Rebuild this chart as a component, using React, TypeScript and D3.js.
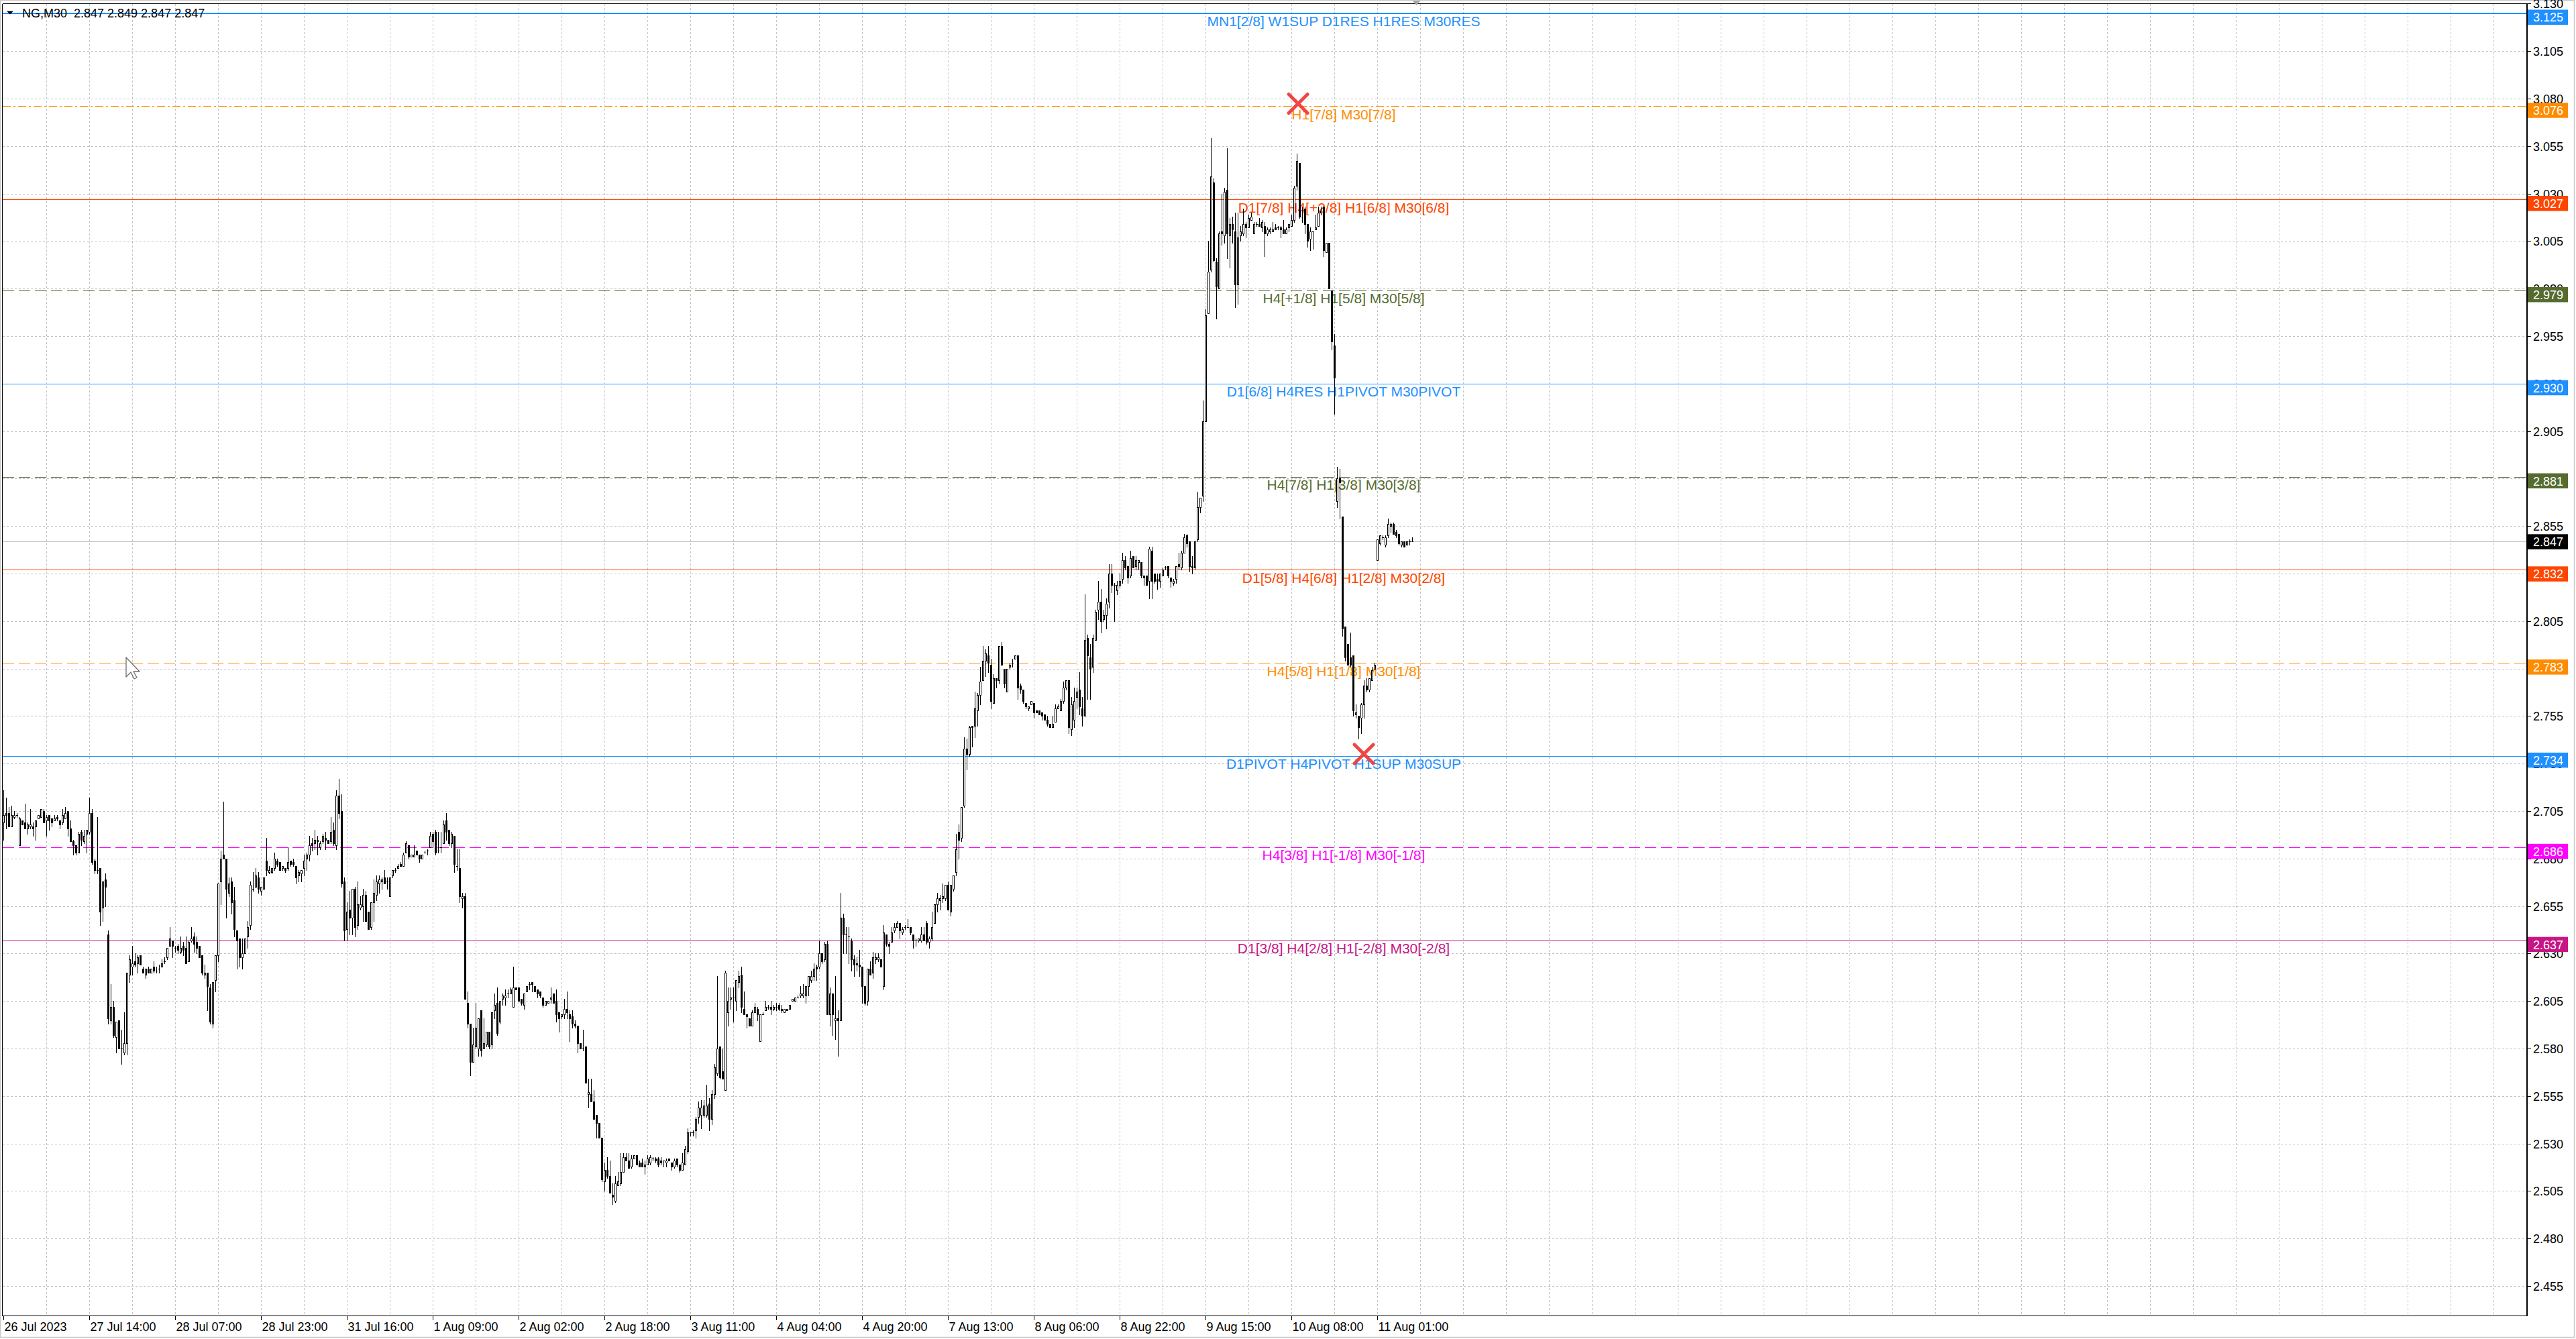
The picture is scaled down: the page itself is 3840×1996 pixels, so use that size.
import React, { useEffect } from "react";
import * as d3 from "d3";

const W = 3840;
const H = 1996;

// NG, M30 candles [open, high, low, close], oldest first (bar 0 = first bar on the left)
const candles: [number, number, number, number][] = [
  [2.699,2.716,2.690,2.703],[2.704,2.712,2.696,2.703],[2.704,2.707,2.697,2.697],[2.697,2.708,2.697,2.703],
  [2.702,2.705,2.701,2.703],[2.703,2.704,2.702,2.703],[2.687,2.702,2.687,2.701],[2.700,2.700,2.698,2.698],
  [2.699,2.709,2.696,2.696],[2.696,2.699,2.693,2.698],[2.697,2.706,2.696,2.698],[2.697,2.699,2.692,2.696],
  [2.697,2.700,2.690,2.700],[2.701,2.703,2.701,2.703],[2.702,2.706,2.702,2.706],[2.705,2.706,2.699,2.699],
  [2.700,2.703,2.692,2.702],[2.703,2.703,2.695,2.700],[2.701,2.701,2.697,2.699],[2.700,2.703,2.700,2.701],
  [2.702,2.703,2.700,2.701],[2.700,2.700,2.696,2.698],[2.699,2.706,2.698,2.703],[2.701,2.707,2.701,2.704],
  [2.705,2.705,2.692,2.696],[2.696,2.700,2.689,2.689],[2.689,2.690,2.682,2.687],[2.687,2.687,2.682,2.683],
  [2.683,2.694,2.683,2.693],[2.694,2.695,2.687,2.690],[2.689,2.695,2.688,2.692],[2.693,2.695,2.683,2.695],
  [2.694,2.712,2.693,2.704],[2.704,2.706,2.677,2.678],[2.679,2.680,2.672,2.674],[2.674,2.702,2.672,2.674],
  [2.675,2.675,2.645,2.652],[2.654,2.668,2.647,2.668],[2.669,2.672,2.655,2.665],[2.640,2.642,2.593,2.596],
  [2.595,2.614,2.593,2.602],[2.602,2.605,2.586,2.587],[2.586,2.594,2.578,2.594],[2.595,2.595,2.580,2.580],
  [2.580,2.590,2.572,2.580],[2.578,2.599,2.577,2.583],[2.583,2.620,2.577,2.620],[2.619,2.629,2.615,2.627],
  [2.623,2.634,2.619,2.625],[2.626,2.630,2.623,2.624],[2.625,2.629,2.620,2.628],[2.629,2.629,2.624,2.624],
  [2.622,2.623,2.620,2.620],[2.619,2.622,2.617,2.622],[2.622,2.623,2.620,2.620],[2.620,2.622,2.620,2.622],
  [2.623,2.626,2.620,2.621],[2.621,2.623,2.620,2.621],[2.622,2.624,2.620,2.622],[2.623,2.627,2.623,2.625],
  [2.626,2.628,2.625,2.626],[2.628,2.633,2.627,2.633],[2.634,2.644,2.634,2.638],[2.637,2.637,2.628,2.634],
  [2.633,2.634,2.631,2.633],[2.634,2.635,2.630,2.632],[2.631,2.639,2.630,2.633],[2.634,2.636,2.629,2.632],
  [2.633,2.639,2.625,2.625],[2.626,2.637,2.626,2.636],[2.637,2.644,2.636,2.638],[2.639,2.641,2.631,2.635],
  [2.636,2.639,2.630,2.633],[2.634,2.634,2.628,2.628],[2.629,2.629,2.619,2.620],[2.619,2.624,2.617,2.620],
  [2.620,2.620,2.600,2.613],[2.612,2.614,2.593,2.594],[2.593,2.615,2.591,2.615],[2.616,2.629,2.610,2.629],
  [2.629,2.667,2.626,2.667],[2.668,2.684,2.656,2.680],[2.682,2.710,2.680,2.680],[2.680,2.680,2.649,2.664],
  [2.662,2.670,2.660,2.667],[2.668,2.670,2.651,2.657],[2.658,2.665,2.639,2.643],[2.642,2.642,2.622,2.637],
  [2.638,2.638,2.623,2.628],[2.628,2.638,2.622,2.630],[2.630,2.638,2.630,2.638],[2.639,2.647,2.633,2.644],
  [2.645,2.668,2.643,2.666],[2.664,2.673,2.663,2.664],[2.665,2.675,2.665,2.671],[2.670,2.673,2.662,2.664],
  [2.663,2.665,2.661,2.665],[2.664,2.670,2.664,2.670],[2.679,2.691,2.671,2.674],[2.673,2.676,2.672,2.674],
  [2.673,2.675,2.672,2.675],[2.675,2.683,2.674,2.680],[2.679,2.680,2.676,2.677],[2.678,2.678,2.674,2.674],
  [2.675,2.676,2.674,2.676],[2.675,2.675,2.673,2.674],[2.675,2.686,2.674,2.678],[2.679,2.679,2.676,2.677],
  [2.678,2.680,2.676,2.677],[2.676,2.676,2.667,2.670],[2.671,2.674,2.668,2.673],[2.672,2.674,2.668,2.674],
  [2.675,2.682,2.671,2.679],[2.680,2.683,2.674,2.682],[2.682,2.692,2.679,2.687],[2.688,2.691,2.684,2.687],
  [2.688,2.695,2.685,2.690],[2.690,2.692,2.682,2.689],[2.686,2.689,2.685,2.688],[2.689,2.693,2.688,2.692],
  [2.691,2.694,2.685,2.690],[2.690,2.690,2.688,2.688],[2.689,2.702,2.688,2.694],[2.695,2.699,2.687,2.688],
  [2.687,2.716,2.685,2.713],[2.713,2.722,2.701,2.704],[2.705,2.714,2.665,2.667],[2.668,2.670,2.637,2.642],
  [2.643,2.657,2.637,2.652],[2.653,2.663,2.640,2.649],[2.649,2.664,2.640,2.664],[2.664,2.665,2.639,2.644],
  [2.645,2.668,2.643,2.656],[2.654,2.660,2.653,2.656],[2.655,2.664,2.647,2.661],[2.661,2.663,2.647,2.647],
  [2.652,2.652,2.643,2.643],[2.644,2.657,2.643,2.657],[2.657,2.669,2.647,2.662],[2.661,2.671,2.658,2.668],
  [2.667,2.671,2.662,2.669],[2.668,2.670,2.664,2.669],[2.670,2.674,2.667,2.667],[2.668,2.670,2.664,2.668],
  [2.660,2.670,2.660,2.670],[2.671,2.674,2.670,2.674],[2.674,2.675,2.673,2.674],[2.675,2.677,2.675,2.676],
  [2.677,2.678,2.676,2.676],[2.676,2.683,2.676,2.682],[2.683,2.689,2.683,2.688],[2.687,2.687,2.680,2.681],
  [2.681,2.682,2.681,2.682],[2.681,2.687,2.681,2.682],[2.684,2.684,2.682,2.682],[2.682,2.682,2.678,2.680],
  [2.680,2.682,2.680,2.682],[2.683,2.684,2.683,2.683],[2.684,2.685,2.682,2.684],[2.686,2.694,2.686,2.692],
  [2.693,2.694,2.686,2.689],[2.694,2.695,2.682,2.683],[2.684,2.694,2.683,2.684],[2.686,2.694,2.683,2.686],
  [2.688,2.700,2.688,2.698],[2.700,2.704,2.690,2.694],[2.695,2.695,2.687,2.688],[2.688,2.694,2.686,2.693],
  [2.692,2.692,2.673,2.677],[2.676,2.685,2.674,2.676],[2.675,2.685,2.657,2.660],[2.659,2.662,2.654,2.660],
  [2.660,2.662,2.606,2.606],[2.604,2.610,2.591,2.593],[2.593,2.593,2.566,2.573],[2.573,2.591,2.573,2.582],
  [2.581,2.604,2.580,2.591],[2.580,2.596,2.576,2.596],[2.600,2.600,2.576,2.579],[2.580,2.596,2.580,2.583],
  [2.582,2.589,2.581,2.589],[2.589,2.589,2.580,2.581],[2.582,2.599,2.580,2.599],[2.600,2.609,2.596,2.603],
  [2.604,2.612,2.587,2.588],[2.594,2.605,2.593,2.605],[2.606,2.609,2.603,2.608],[2.607,2.611,2.603,2.608],
  [2.609,2.611,2.607,2.609],[2.609,2.612,2.609,2.611],[2.602,2.623,2.602,2.612],[2.612,2.612,2.611,2.611],
  [2.612,2.612,2.605,2.605],[2.606,2.606,2.603,2.604],[2.603,2.609,2.601,2.609],[2.610,2.613,2.610,2.613],
  [2.614,2.615,2.611,2.614],[2.615,2.615,2.610,2.614],[2.613,2.613,2.610,2.610],[2.611,2.611,2.607,2.609],
  [2.610,2.610,2.607,2.608],[2.607,2.607,2.602,2.603],[2.603,2.605,2.603,2.605],[2.604,2.605,2.604,2.605],
  [2.606,2.612,2.604,2.607],[2.609,2.609,2.604,2.604],[2.605,2.611,2.594,2.598],[2.599,2.599,2.589,2.596],
  [2.597,2.598,2.596,2.598],[2.598,2.606,2.596,2.601],[2.601,2.610,2.596,2.599],[2.598,2.600,2.584,2.596],
  [2.597,2.600,2.591,2.593],[2.593,2.595,2.591,2.592],[2.592,2.592,2.578,2.583],[2.583,2.583,2.580,2.580],
  [2.580,2.590,2.579,2.580],[2.581,2.581,2.562,2.562],[2.556,2.564,2.549,2.557],[2.556,2.564,2.552,2.552],
  [2.552,2.558,2.543,2.543],[2.545,2.545,2.533,2.541],[2.541,2.541,2.533,2.533],[2.533,2.533,2.510,2.511],
  [2.510,2.520,2.505,2.516],[2.516,2.523,2.512,2.513],[2.513,2.521,2.504,2.504],[2.503,2.509,2.498,2.502],
  [2.500,2.513,2.499,2.509],[2.508,2.515,2.508,2.510],[2.509,2.525,2.508,2.515],[2.515,2.525,2.515,2.523],
  [2.523,2.525,2.521,2.521],[2.521,2.525,2.517,2.517],[2.518,2.524,2.517,2.522],[2.522,2.524,2.522,2.524],
  [2.524,2.524,2.519,2.519],[2.520,2.521,2.518,2.518],[2.520,2.522,2.518,2.518],[2.518,2.521,2.514,2.519],
  [2.519,2.524,2.519,2.522],[2.520,2.524,2.519,2.523],[2.522,2.523,2.521,2.522],[2.522,2.523,2.520,2.521],
  [2.522,2.523,2.518,2.519],[2.521,2.523,2.519,2.520],[2.521,2.521,2.518,2.521],[2.520,2.522,2.518,2.521],
  [2.522,2.522,2.521,2.521],[2.520,2.520,2.516,2.518],[2.518,2.522,2.517,2.521],[2.522,2.522,2.518,2.519],
  [2.519,2.519,2.515,2.516],[2.516,2.525,2.516,2.520],[2.519,2.529,2.519,2.527],[2.526,2.538,2.525,2.536],
  [2.536,2.536,2.534,2.536],[2.536,2.537,2.534,2.536],[2.537,2.544,2.533,2.543],[2.544,2.552,2.541,2.549],
  [2.545,2.553,2.538,2.549],[2.545,2.553,2.544,2.550],[2.545,2.561,2.544,2.550],[2.551,2.554,2.537,2.543],
  [2.543,2.558,2.540,2.556],[2.556,2.572,2.554,2.570],[2.567,2.618,2.566,2.580],[2.581,2.581,2.564,2.565],
  [2.568,2.580,2.564,2.564],[2.558,2.621,2.558,2.620],[2.599,2.612,2.592,2.605],[2.606,2.612,2.601,2.607],
  [2.607,2.612,2.594,2.607],[2.605,2.616,2.600,2.616],[2.615,2.621,2.612,2.618],[2.619,2.623,2.599,2.602],
  [2.601,2.610,2.598,2.598],[2.598,2.598,2.591,2.597],[2.596,2.596,2.592,2.592],[2.592,2.600,2.592,2.599],
  [2.599,2.604,2.599,2.602],[2.601,2.602,2.595,2.598],[2.584,2.598,2.584,2.598],[2.598,2.599,2.598,2.598],
  [2.600,2.605,2.600,2.602],[2.602,2.603,2.601,2.602],[2.602,2.605,2.598,2.601],[2.601,2.603,2.600,2.602],
  [2.602,2.604,2.600,2.602],[2.603,2.604,2.600,2.601],[2.601,2.603,2.599,2.600],[2.599,2.601,2.599,2.601],
  [2.600,2.601,2.600,2.601],[2.601,2.603,2.601,2.603],[2.605,2.606,2.605,2.606],[2.605,2.607,2.605,2.607],
  [2.607,2.608,2.607,2.607],[2.608,2.613,2.607,2.609],[2.608,2.614,2.607,2.609],[2.608,2.613,2.604,2.613],
  [2.613,2.618,2.608,2.618],[2.616,2.621,2.615,2.618],[2.618,2.625,2.616,2.622],[2.623,2.624,2.616,2.622],
  [2.623,2.637,2.622,2.630],[2.630,2.630,2.625,2.626],[2.627,2.636,2.626,2.635],[2.635,2.637,2.598,2.598],
  [2.598,2.612,2.592,2.609],[2.609,2.609,2.587,2.598],[2.595,2.618,2.585,2.596],[2.596,2.600,2.576,2.595],
  [2.595,2.662,2.595,2.649],[2.649,2.651,2.630,2.640],[2.640,2.644,2.630,2.640],[2.639,2.644,2.625,2.639],
  [2.637,2.638,2.621,2.627],[2.627,2.629,2.618,2.624],[2.625,2.628,2.621,2.624],[2.624,2.632,2.618,2.623],
  [2.623,2.623,2.604,2.613],[2.613,2.613,2.603,2.604],[2.605,2.622,2.603,2.622],[2.622,2.626,2.619,2.619],
  [2.620,2.631,2.617,2.628],[2.627,2.630,2.625,2.628],[2.627,2.630,2.626,2.628],[2.627,2.627,2.623,2.623],
  [2.613,2.645,2.611,2.641],[2.640,2.640,2.634,2.635],[2.635,2.636,2.630,2.634],[2.636,2.644,2.636,2.641],
  [2.642,2.646,2.641,2.644],[2.644,2.647,2.644,2.646],[2.646,2.646,2.638,2.642],[2.641,2.644,2.640,2.643],
  [2.644,2.645,2.643,2.644],[2.644,2.648,2.644,2.644],[2.644,2.644,2.640,2.641],[2.640,2.640,2.633,2.637],
  [2.637,2.638,2.634,2.637],[2.637,2.638,2.636,2.638],[2.637,2.644,2.636,2.640],[2.640,2.644,2.637,2.637],
  [2.646,2.647,2.635,2.636],[2.636,2.639,2.633,2.638],[2.638,2.652,2.637,2.644],[2.646,2.656,2.646,2.656],
  [2.656,2.662,2.652,2.659],[2.658,2.661,2.653,2.659],[2.659,2.667,2.657,2.660],[2.659,2.666,2.658,2.666],
  [2.666,2.668,2.653,2.653],[2.652,2.666,2.650,2.666],[2.664,2.671,2.663,2.671],[2.673,2.693,2.671,2.685],
  [2.694,2.698,2.680,2.690],[2.691,2.707,2.689,2.707],[2.708,2.744,2.707,2.738],[2.738,2.743,2.727,2.735],
  [2.735,2.750,2.734,2.749],[2.750,2.750,2.739,2.749],[2.750,2.768,2.744,2.759],[2.758,2.767,2.750,2.766],
  [2.766,2.781,2.761,2.773],[2.774,2.792,2.774,2.784],[2.784,2.790,2.776,2.788],[2.787,2.792,2.778,2.783],
  [2.782,2.785,2.759,2.763],[2.762,2.777,2.762,2.775],[2.775,2.775,2.770,2.774],[2.774,2.792,2.772,2.792],
  [2.792,2.794,2.782,2.782],[2.780,2.780,2.770,2.772],[2.768,2.780,2.768,2.780],[2.781,2.783,2.780,2.782],
  [2.783,2.785,2.781,2.783],[2.785,2.787,2.785,2.787],[2.787,2.787,2.764,2.770],[2.771,2.772,2.767,2.769],
  [2.769,2.769,2.762,2.763],[2.762,2.762,2.759,2.760],[2.759,2.760,2.758,2.760],[2.761,2.763,2.761,2.763],
  [2.762,2.762,2.754,2.757],[2.758,2.758,2.757,2.757],[2.758,2.758,2.756,2.756],[2.757,2.757,2.753,2.755],
  [2.756,2.756,2.753,2.753],[2.753,2.755,2.750,2.751],[2.751,2.751,2.749,2.749],[2.749,2.755,2.749,2.751],
  [2.752,2.761,2.752,2.759],[2.759,2.761,2.759,2.760],[2.758,2.764,2.758,2.763],[2.763,2.773,2.762,2.770],
  [2.770,2.774,2.769,2.774],[2.774,2.774,2.746,2.749],[2.748,2.765,2.745,2.761],[2.753,2.770,2.749,2.763],
  [2.765,2.770,2.759,2.768],[2.769,2.778,2.756,2.760],[2.759,2.765,2.750,2.755],[2.755,2.819,2.755,2.795],
  [2.796,2.798,2.764,2.787],[2.786,2.793,2.764,2.780],[2.781,2.798,2.778,2.796],[2.795,2.811,2.795,2.810],
  [2.811,2.826,2.806,2.815],[2.815,2.822,2.799,2.805],[2.806,2.811,2.805,2.808],[2.808,2.817,2.801,2.814],
  [2.815,2.835,2.812,2.830],[2.830,2.835,2.820,2.824],[2.824,2.825,2.805,2.824],[2.821,2.826,2.819,2.824],
  [2.824,2.830,2.823,2.826],[2.827,2.841,2.825,2.837],[2.837,2.839,2.832,2.833],[2.834,2.834,2.825,2.828],
  [2.829,2.842,2.828,2.838],[2.839,2.839,2.833,2.833],[2.834,2.839,2.832,2.837],[2.836,2.837,2.832,2.837],
  [2.836,2.836,2.828,2.829],[2.829,2.829,2.824,2.828],[2.829,2.829,2.824,2.824],[2.826,2.844,2.817,2.843],
  [2.842,2.844,2.817,2.826],[2.830,2.830,2.825,2.826],[2.827,2.830,2.822,2.826],[2.826,2.830,2.823,2.830],
  [2.829,2.833,2.829,2.832],[2.833,2.834,2.832,2.833],[2.834,2.834,2.828,2.829],[2.828,2.828,2.823,2.826],
  [2.825,2.827,2.824,2.826],[2.827,2.834,2.825,2.834],[2.835,2.841,2.832,2.834],[2.833,2.842,2.832,2.841],
  [2.841,2.851,2.841,2.849],[2.850,2.851,2.844,2.846],[2.847,2.847,2.831,2.834],[2.834,2.839,2.830,2.833],
  [2.833,2.847,2.832,2.847],[2.848,2.873,2.847,2.865],[2.865,2.870,2.862,2.870],[2.871,2.921,2.868,2.910],
  [2.910,2.969,2.910,2.966],[2.967,3.005,2.967,2.989],[2.990,3.059,2.989,3.039],[3.036,3.038,2.994,2.995],
  [2.994,2.996,2.964,2.981],[2.980,3.010,2.980,3.009],[3.010,3.030,3.003,3.009],[3.008,3.033,3.004,3.031],
  [3.032,3.054,2.996,3.009],[3.008,3.017,2.991,3.014],[3.014,3.018,3.004,3.011],[3.010,3.020,2.970,2.982],
  [2.982,3.020,2.972,3.007],[3.008,3.013,3.005,3.010],[3.009,3.022,3.008,3.014],[3.014,3.015,3.007,3.012],
  [3.012,3.019,3.012,3.017],[3.016,3.020,3.016,3.018],[3.009,3.015,3.009,3.014],[3.014,3.015,3.013,3.014],
  [3.014,3.017,3.013,3.013],[3.012,3.016,3.010,3.015],[3.013,3.015,2.997,3.009],[3.009,3.012,3.008,3.011],
  [3.010,3.012,3.009,3.011],[3.010,3.015,3.010,3.011],[3.012,3.014,3.011,3.011],[3.012,3.013,3.011,3.012],
  [3.012,3.013,3.007,3.011],[3.011,3.016,3.009,3.009],[3.009,3.012,3.009,3.011],[3.012,3.014,3.010,3.014],
  [3.013,3.019,3.013,3.016],[3.016,3.034,3.015,3.033],[3.034,3.051,3.032,3.047],[3.046,3.046,3.017,3.018],
  [3.018,3.023,3.015,3.018],[3.022,3.023,3.009,3.014],[3.014,3.014,3.002,3.005],[3.006,3.012,3.000,3.010],
  [3.010,3.010,3.001,3.010],[3.011,3.019,3.011,3.012],[3.013,3.023,3.013,3.020],[3.020,3.023,3.019,3.021],
  [3.023,3.023,2.997,3.000],[2.999,3.004,2.999,3.004],[3.004,3.004,2.980,2.980],[2.979,2.979,2.948,2.952],
  [2.950,2.956,2.914,2.933],[2.868,2.886,2.865,2.880],[2.880,2.885,2.859,2.878],[2.860,2.860,2.797,2.801],
  [2.802,2.802,2.784,2.786],[2.793,2.793,2.782,2.782],[2.786,2.799,2.781,2.782],[2.787,2.787,2.755,2.758],
  [2.756,2.761,2.754,2.757],[2.755,2.755,2.743,2.749],[2.754,2.762,2.746,2.761],[2.761,2.774,2.754,2.771],
  [2.771,2.775,2.768,2.769],[2.769,2.775,2.768,2.775],[2.774,2.781,2.774,2.779],[2.780,2.783,2.780,2.782],
  [2.837,2.848,2.837,2.848],[2.846,2.850,2.845,2.850],[2.849,2.850,2.848,2.849],[2.845,2.850,2.844,2.849],
  [2.850,2.859,2.849,2.856],[2.855,2.857,2.852,2.856],[2.856,2.857,2.851,2.851],[2.852,2.853,2.849,2.850],
  [2.851,2.851,2.845,2.846],[2.845,2.847,2.844,2.847],[2.847,2.847,2.844,2.844],[2.845,2.847,2.845,2.847],
  [2.847,2.848,2.845,2.847],[2.847,2.849,2.847,2.847],
];

// time axis labels and the bar index they sit on
const dateLabels = [
  "26 Jul 2023", "27 Jul 14:00", "28 Jul 07:00", "28 Jul 23:00", "31 Jul 16:00", "1 Aug 09:00",
  "2 Aug 02:00", "2 Aug 18:00", "3 Aug 11:00", "4 Aug 04:00", "4 Aug 20:00", "7 Aug 13:00",
  "8 Aug 06:00", "8 Aug 22:00", "9 Aug 15:00", "10 Aug 08:00", "11 Aug 01:00",
];
const dateLabelBars = [0, 32, 64, 96, 128, 160, 192, 224, 256, 288, 320, 352, 384, 416, 448, 480, 512];

// price axis ticks
const priceTicks = [
  2.455, 2.48, 2.505, 2.53, 2.555, 2.58, 2.605, 2.63, 2.655, 2.68, 2.705, 2.73, 2.755, 2.78,
  2.805, 2.83, 2.855, 2.88, 2.905, 2.93, 2.955, 2.98, 3.005, 3.03, 3.055, 3.08, 3.105, 3.13,
];

// Murrey-math style levels
const levelPrices = [3.125, 3.076, 3.027, 2.979, 2.93, 2.881, 2.832, 2.783, 2.734, 2.686, 2.637];
const levelTexts = [
  "MN1[2/8] W1SUP D1RES H1RES M30RES",
  "H1[7/8] M30[7/8]",
  "D1[7/8] H4[+2/8] H1[6/8] M30[6/8]",
  "H4[+1/8] H1[5/8] M30[5/8]",
  "D1[6/8] H4RES H1PIVOT M30PIVOT",
  "H4[7/8] H1[3/8] M30[3/8]",
  "D1[5/8] H4[6/8] H1[2/8] M30[2/8]",
  "H4[5/8] H1[1/8] M30[1/8]",
  "D1PIVOT H4PIVOT H1SUP M30SUP",
  "H4[3/8] H1[-1/8] M30[-1/8]",
  "D1[3/8] H4[2/8] H1[-2/8] M30[-2/8]",
];
// styles for each level (kept apart from the values)
const levelColors = ["#1E90FF", "#FF8C00", "#FF4500", "#556B2F", "#1E90FF", "#556B2F", "#FF4500", "#FF8C00", "#1E90FF", "#FF00FF", "#C71585"];
const levelDash = ["", "12,4,3,4", "", "17,7", "", "17,7", "", "17,7", "", "17,7", ""];
const levelWidth = [2, 1, 1, 1, 1, 1, 1, 1, 1, 1, 1];

const bidPrice = 2.847;
const header = "NG,M30  2.847 2.849 2.847 2.847";

// reversal markers: [bar index, price]
const markers: [number, number][] = [
  [482.4, 3.0775],
  [506.9, 2.7352],
];

const FONT = "'Liberation Sans', Arial, 'DejaVu Sans', sans-serif";

export default function App() {
  useEffect(() => {
    document.body.style.margin = "0";
    document.body.style.background = "#ffffff";
  }, []);

  const left = 3.5;
  const right = 3767;
  const top = 5.5;
  const bottom = 1961.5;

  const x = d3.scaleLinear().domain([0, 940.375]).range([5.5, right]);
  const y = d3.scaleLinear().domain([2.4395, 3.1301]).range([bottom, top]);
  const snap = (v: number) => Math.floor(v) + 0.5;

  const vGridBars = d3.range(16, 941, 16).filter((b) => x(b) < right - 2);

  return (
    <svg
      width={W}
      height={H}
      viewBox={`0 0 ${W} ${H}`}
      style={{ position: "absolute", left: 0, top: 0, display: "block", background: "#fff" }}
      fontFamily={FONT}
    >
      <rect x={0} y={0} width={W} height={H} fill="#ffffff" />
      {/* window border */}
      <rect x={0.5} y={0.5} width={3837} height={1993} fill="none" stroke="#c8c8c8" strokeWidth={1.5} />

      {/* grid */}
      <g stroke="#c3c3c3" strokeWidth={1} strokeDasharray="3,3" shapeRendering="crispEdges">
        {priceTicks.map((p) => (
          <line key={"h" + p} x1={left} x2={right} y1={snap(y(p))} y2={snap(y(p))} />
        ))}
        {vGridBars.map((b) => (
          <line key={"v" + b} x1={snap(x(b))} x2={snap(x(b))} y1={top} y2={bottom} />
        ))}
      </g>

      {/* bid line */}
      <line x1={left} x2={right} y1={snap(y(bidPrice))} y2={snap(y(bidPrice))} stroke="#c0c0c0" strokeWidth={1} shapeRendering="crispEdges" />

      {/* level lines */}
      {levelPrices.map((p, i) => (
        <line
          key={"lv" + i}
          x1={left}
          x2={right}
          y1={levelWidth[i] === 2 ? Math.round(y(p)) : snap(y(p))}
          y2={levelWidth[i] === 2 ? Math.round(y(p)) : snap(y(p))}
          stroke={levelColors[i]}
          strokeWidth={levelWidth[i]}
          strokeDasharray={levelDash[i] || undefined}
          shapeRendering="crispEdges"
        />
      ))}

      {/* level texts */}
      {levelPrices.map((p, i) => (
        <text key={"lt" + i} x={2003} y={y(p) + 19} textAnchor="middle" fontSize={21} fill={levelColors[i]}>
          {levelTexts[i]}
        </text>
      ))}

      {/* candles */}
      <g shapeRendering="crispEdges">
        {candles.map(([o, h, l, c], i) => {
          const cx = x(i);
          const yH = snap(y(h));
          const yL = snap(y(l));
          const yO = snap(y(o));
          const yC = snap(y(c));
          const t = Math.min(yO, yC);
          const b = Math.max(yO, yC);
          const up = c >= o;
          return (
            <g key={i}>
              <line x1={cx} x2={cx} y1={yH - 0.5} y2={yL + 0.5} stroke="#000" strokeWidth={1} />
              {b - t < 1 ? (
                <line x1={cx - 1.5} x2={cx + 1.5} y1={t} y2={t} stroke="#000" strokeWidth={1} />
              ) : (
                <rect x={cx - 1} y={t} width={2} height={b - t} fill={up ? "#fff" : "#000"} stroke="#000" strokeWidth={1} />
              )}
            </g>
          );
        })}
      </g>

      {/* markers */}
      {markers.map(([bi, p], i) => {
        const mx = x(bi);
        const my = y(p);
        const s = 14;
        return (
          <g key={"mk" + i} stroke="#f23c3c" strokeWidth={5} strokeLinecap="round" opacity={0.95}>
            <line x1={mx - s} y1={my - s} x2={mx + s} y2={my + s} />
            <line x1={mx - s} y1={my + s} x2={mx + s} y2={my - s} />
          </g>
        );
      })}

      {/* frame */}
      <g stroke="#000" strokeWidth={1.5} fill="none" shapeRendering="crispEdges">
        <line x1={left} x2={right} y1={top} y2={top} />
        <line x1={left} x2={left} y1={top} y2={bottom} />
        <line x1={left} x2={right} y1={bottom} y2={bottom} />
        <line x1={right} x2={right} y1={top} y2={bottom} />
      </g>

      {/* price axis */}
      <g fontSize={18} fill="#000">
        {priceTicks.map((p) => (
          <g key={"pt" + p}>
            <line x1={right} x2={right + 6} y1={snap(y(p))} y2={snap(y(p))} stroke="#000" strokeWidth={1} shapeRendering="crispEdges" />
            <text x={3776} y={y(p) + 6.5}>{p.toFixed(3)}</text>
          </g>
        ))}
      </g>

      {/* level price boxes */}
      {levelPrices.map((p, i) => (
        <g key={"lb" + i}>
          <rect x={3768} y={y(p) - 5.5} width={60} height={22.5} fill={levelColors[i]} />
          <text x={3776} y={y(p) + 12.5} fontSize={18} fill="#fff">{p.toFixed(3)}</text>
        </g>
      ))}
      <g>
        <rect x={3768} y={y(bidPrice) - 11} width={60} height={22.5} fill="#000" />
        <text x={3776} y={y(bidPrice) + 7} fontSize={18} fill="#fff">{bidPrice.toFixed(3)}</text>
      </g>

      {/* time axis */}
      <g fontSize={18} fill="#000">
        {dateLabels.map((d, i) => (
          <g key={"d" + i}>
            <line x1={snap(x(dateLabelBars[i]))} x2={snap(x(dateLabelBars[i]))} y1={bottom} y2={bottom + 6} stroke="#000" strokeWidth={1} shapeRendering="crispEdges" />
            <text x={x(dateLabelBars[i]) + 1} y={1984}>{d}</text>
          </g>
        ))}
      </g>

      {/* header */}
      <polygon points="10,16.5 20,16.5 15,21.5" fill="#000" />
      <text x={33} y={26} fontSize={18} fill="#000" style={{ whiteSpace: "pre" }}>{header}</text>

      {/* chart shift marker */}
      <polygon points={`${x(526.5) - 6},1 ${x(526.5) + 6},1 ${x(526.5)},8`} fill="#a8a8a8" />

      {/* mouse cursor */}
      <path
        d="M188,980 L188,1009 L195,1002 L200,1012 L204,1010 L199,1001 L208,1001 Z"
        fill="#fff"
        stroke="#6e6e6e"
        strokeWidth={1.3}
        strokeLinejoin="round"
      />
    </svg>
  );
}
